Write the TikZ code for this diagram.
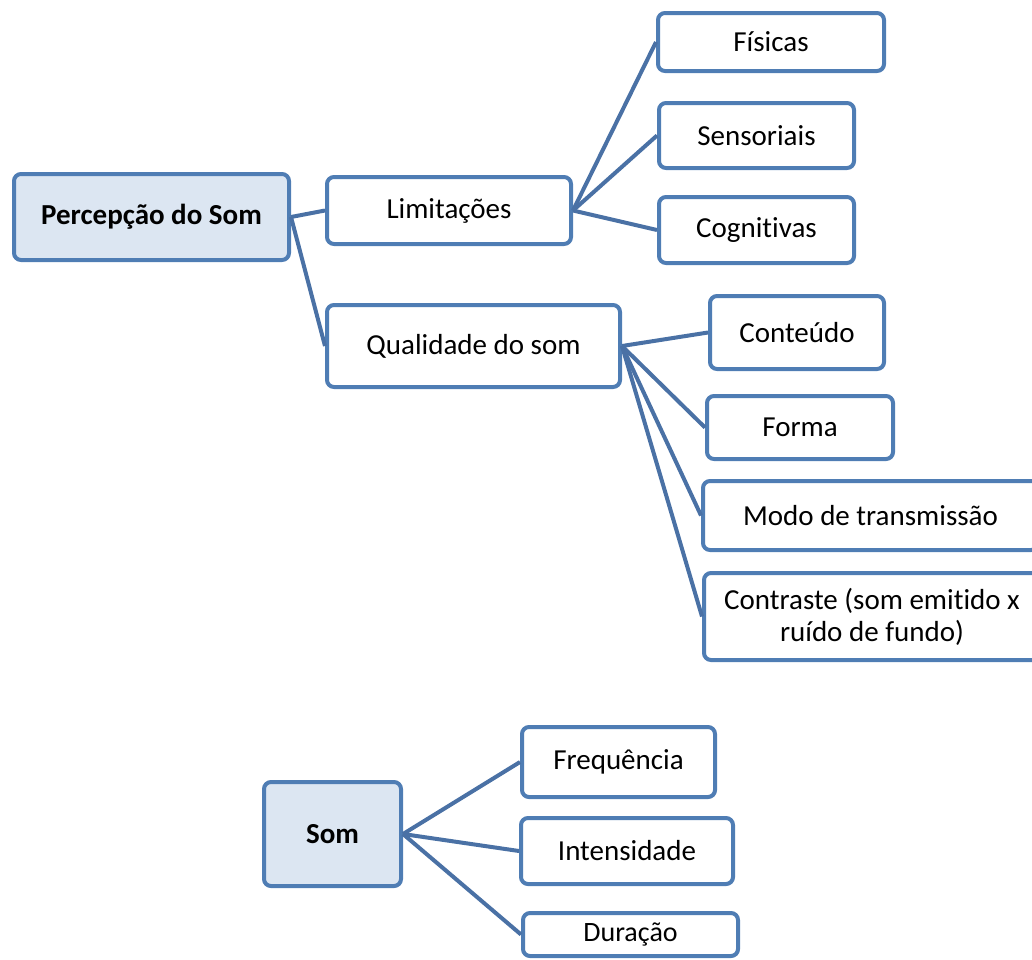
\documentclass[tikz,border=0pt]{standalone}
\usepackage{fontspec}
\setmainfont{Carlito}[RawFeature=-liga]
\definecolor{boxblue}{HTML}{4F7DB4}
\definecolor{lineblue}{HTML}{4A71A5}
\definecolor{rootfill}{HTML}{DCE6F2}
\tikzset{
  box/.style={draw=boxblue, line width=4pt, rounded corners=7pt, fill=white,
    inner sep=0pt, align=center, text=black,
    font=\fontsize{29}{32}\selectfont},
  rootbox/.style={box, fill=rootfill, font=\fontsize{29}{32}\selectfont\bfseries},
  link/.style={draw=lineblue, line width=4pt}
}
\begin{document}
\begin{tikzpicture}[x=1pt,y=-1pt]
\useasboundingbox (0,0) rectangle (1032,959);
\clip (0,0) rectangle (1032,959);
% top tree
\node[rootbox, minimum width=275pt, minimum height=86pt] (perc) at (151.5,217) {Percepção do Som};
\node[box, minimum width=244pt, minimum height=67pt] (lim) at (449,210.5) {Limitações};
\node[box, minimum width=293pt, minimum height=82pt] (qual) at (473.5,346) {Qualidade do som};
\node[box, minimum width=226pt, minimum height=58pt] (fis) at (771,42) {Físicas};
\node[box, minimum width=195pt, minimum height=65pt] (sens) at (756.5,135.5) {Sensoriais};
\node[box, minimum width=195pt, minimum height=66pt] (cog) at (756.5,230) {Cognitivas};
\node[box, minimum width=174pt, minimum height=73pt] (cont) at (797,332.5) {Conteúdo};
\node[box, minimum width=186pt, minimum height=63pt] (forma) at (800,427.5) {Forma};
\node[box, minimum width=335pt, minimum height=69pt] (modo) at (870.5,515.5) {Modo de transmissão};
\node[box, minimum width=336pt, minimum height=87pt] (contr) at (872,616.5) {Contraste (som emitido x\\ruído de fundo)};
% bottom tree
\node[rootbox, minimum width=137pt, minimum height=104pt] (som) at (332.5,834) {Som};
\node[box, minimum width=193pt, minimum height=70pt] (freq) at (618.5,762) {Frequência};
\node[box, minimum width=212pt, minimum height=66pt] (int) at (627,851) {Intensidade};
\node[box, minimum width=215pt, minimum height=43pt, font=\fontsize{28}{30}\selectfont] (dur) at (630.5,934.5) {Duração};
% connectors
\draw[link] (perc.east) -- (lim.west);
\draw[link] (perc.east) -- (qual.west);
\draw[link] (lim.east) -- (fis.west);
\draw[link] (lim.east) -- (sens.west);
\draw[link] (lim.east) -- (cog.west);
\draw[link] (qual.east) -- (cont.west);
\draw[link] (qual.east) -- (forma.west);
\draw[link] (qual.east) -- (modo.west);
\draw[link] (qual.east) -- (contr.west);
\draw[link] (som.east) -- (freq.west);
\draw[link] (som.east) -- (int.west);
\draw[link] (som.east) -- (dur.west);
\end{tikzpicture}
\end{document}
